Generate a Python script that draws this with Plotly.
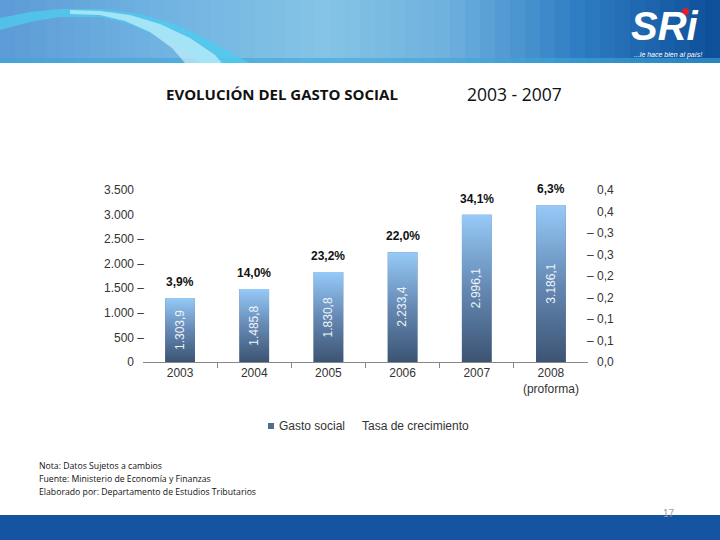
import plotly.graph_objects as go

# ---------------- data ----------------
years = ["2003", "2004", "2005", "2006", "2007", "2008<br>(proforma)"]
gasto_social = [1303.9, 1485.8, 1830.8, 2233.4, 2996.1, 3186.1]
tasa_crecimiento = [0.039, 0.140, 0.232, 0.220, 0.341, 0.063]
tasa_labels = ["3,9%", "14,0%", "23,2%", "22,0%", "34,1%", "6,3%"]
left_tick_vals = [0, 500, 1000, 1500, 2000, 2500, 3000, 3500]
left_tick_text = ["0", "500", "1.000", "1.500", "2.000", "2.500", "3.000", "3.500"]
right_tick_vals = [0.0, 0.05, 0.10, 0.15, 0.20, 0.25, 0.30, 0.35, 0.40]
right_tick_text = ["0,0", "0,1", "0,1", "0,2", "0,2", "0,3", "0,3", "0,4", "0,4"]
series_names = ["Gasto social", "Tasa de crecimiento"]

# ---------------- geometry ----------------
W, H = 720, 540
L, R, T, B = 143, 132, 190, 178
PW, PH = W - L - R, H - T - B


def px(x):
    return (x - L) / PW


def py(y):
    return (H - B - y) / PH


def es_num(v):
    s = f"{v:,.1f}"
    return s.replace(",", "X").replace(".", ",").replace("X", ".")


NB = "\u00a0"
left_text = [t + (NB + "–" if 0 < v < 3000 else NB * 3) for v, t in zip(left_tick_vals, left_tick_text)]
right_text = [("– " if 0 < v < 0.34 else NB * 3) + t for v, t in zip(right_tick_vals, right_tick_text)]

xs = list(range(len(years)))
half = 0.2
BAR_DARK, BAR_MID, BAR_LIGHT = "#3c5473", "#6589b4", "#96caf8"

fig = go.Figure()

# base bar trace (data)
fig.add_trace(go.Bar(
    x=xs, y=gasto_social, name=series_names[0], width=2 * half,
    marker=dict(color="#4f6b8e", line=dict(width=0)),
    hovertemplate="%{y:,.1f}<extra>Gasto social</extra>", showlegend=False,
))

# gradient skin for each bar, built from the same values
for xi, v in zip(xs, gasto_social):
    fig.add_trace(go.Scatter(
        x=[xi - half, xi + half, xi + half, xi - half, xi - half],
        y=[0, 0, v, v, 0],
        mode="lines", line=dict(width=0), fill="toself",
        fillgradient=dict(type="vertical",
                          colorscale=[[0, BAR_DARK], [0.5, BAR_MID], [1, BAR_LIGHT]]),
        showlegend=False, hoverinfo="skip",
    ))

# growth rate series (invisible line on secondary axis, as in the original)
fig.add_trace(go.Scatter(
    x=xs, y=tasa_crecimiento, yaxis="y2", name=series_names[1],
    mode="lines", line=dict(color="rgba(0,0,0,0)", width=2), showlegend=False,
    hovertemplate="%{y:.1%}<extra>Tasa de crecimiento</extra>",
))

annotations = []
# rotated values inside bars
for xi, v in zip(xs, gasto_social):
    annotations.append(dict(x=xi, y=v / 2, xref="x", yref="y", text=es_num(v),
                            textangle=-90, showarrow=False, xanchor="center", yanchor="middle",
                            font=dict(family="Liberation Sans, Arial", size=12, color="#eef3f8")))
# growth labels above bars
for xi, v, t in zip(xs, gasto_social, tasa_labels):
    annotations.append(dict(x=xi, y=v, xref="x", yref="y", text="<b>" + t + "</b>",
                            xanchor="center", yanchor="bottom", yshift=7, showarrow=False,
                            font=dict(family="Liberation Sans, Arial", size=12, color="#111111")))


def txt(x, y, text, size, color="#111111", family="Open Sans", xanchor="center"):
    return dict(x=px(x), y=py(y), xref="paper", yref="paper", text=text, showarrow=False,
                xanchor=xanchor, yanchor="middle", font=dict(family=family, size=size, color=color))


annotations += [
    txt(282, 94, "<b>EVOLUCIÓN DEL GASTO SOCIAL</b>", 15),
    txt(514, 94, "2003 - 2007", 17.5),
    txt(37, 466, "Nota: Datos Sujetos a cambios", 8.7, xanchor="left"),
    txt(37, 479, "Fuente: Ministerio de Economía y Finanzas", 8.7, xanchor="left"),
    txt(37, 492, "Elaborado por: Departamento de Estudios Tributarios", 8.7, xanchor="left"),
    txt(669, 513, "17", 10, color="#9a9a9a", family="Liberation Sans, Arial"),
    txt(665, 26, "<b><i>SRi</i></b>", 40, color="#ffffff",
        family="Liberation Sans Narrow, Liberation Sans, Arial"),
    txt(668, 55, "<i>...le hace bien al país!</i>", 7, color="#ffffff", family="Liberation Sans, Arial"),
    # legend
    txt(277, 426, series_names[0], 12, color="#333333", family="Liberation Sans, Arial", xanchor="left"),
    txt(360, 426, series_names[1], 12, color="#333333", family="Liberation Sans, Arial", xanchor="left"),
]

# ---------------- decoration shapes ----------------
shapes = []


def lerp_color(stops, t):
    for (t0, c0), (t1, c1) in zip(stops[:-1], stops[1:]):
        if t0 <= t <= t1:
            f = (t - t0) / (t1 - t0) if t1 > t0 else 0
            a = [int(c0[i:i + 2], 16) for i in (1, 3, 5)]
            b = [int(c1[i:i + 2], 16) for i in (1, 3, 5)]
            return "#" + "".join(f"{round(a[k] + (b[k] - a[k]) * f):02x}" for k in range(3))
    return stops[-1][1]


band_stops = [(0.0, "#5d9bd6"), (0.2, "#6eb1e0"), (0.45, "#85c4e6"), (0.62, "#6fb1de"),
              (0.8, "#2f7ec3"), (1.0, "#0d4d98")]
n_strips = 48
for i in range(n_strips):
    x0 = W * i / n_strips
    x1 = W * (i + 1) / n_strips + 0.6
    shapes.append(dict(type="rect", xref="paper", yref="paper", layer="below",
                       x0=px(x0), x1=px(x1), y0=py(63), y1=py(0),
                       fillcolor=lerp_color(band_stops, (i + 0.5) / n_strips), line=dict(width=0)))
shapes.append(dict(type="rect", xref="paper", yref="paper", layer="below",
                   x0=px(0), x1=px(720), y0=py(63), y1=py(58),
                   fillcolor="#3aa6da", line=dict(width=0), opacity=0.6))


def path(points_top, points_bottom):
    pts = points_top + points_bottom[::-1]
    return "M " + " L ".join(f"{px(a):.4f},{py(b):.4f}" for a, b in pts) + " Z"


wave_top = [(0, 18), (30, 12), (60, 9), (100, 9), (140, 14), (175, 24), (205, 38), (230, 52), (250, 63)]
wave_bot = [(0, 30), (30, 22), (60, 17), (100, 17), (130, 24), (160, 38), (185, 52), (200, 63)]
shapes.append(dict(type="path", xref="paper", yref="paper", layer="below",
                   path=path(wave_top, wave_bot), fillcolor="#4fcbef", line=dict(width=0), opacity=0.8))
wave_top2 = [(70, 10), (100, 11), (130, 15), (160, 24), (190, 38), (215, 55), (222, 63)]
wave_bot2 = [(70, 14), (100, 15), (125, 21), (150, 32), (172, 48), (185, 63)]
shapes.append(dict(type="path", xref="paper", yref="paper", layer="below",
                   path=path(wave_top2, wave_bot2), fillcolor="#c8f1fb", line=dict(width=0), opacity=0.7))
# red dot of the logo
shapes.append(dict(type="circle", xref="paper", yref="paper",
                   x0=px(682), x1=px(689), y0=py(15), y1=py(8),
                   fillcolor="#e0202a", line=dict(width=0)))
# bottom band
shapes.append(dict(type="rect", xref="paper", yref="paper", layer="below",
                   x0=px(0), x1=px(720), y0=py(540), y1=py(515),
                   fillcolor="#1454a0", line=dict(width=0)))
# legend swatch
shapes.append(dict(type="rect", xref="paper", yref="paper",
                   x0=px(268), x1=px(274), y0=py(429), y1=py(423),
                   fillcolor="#4f6e95", line=dict(width=0)))

fig.update_layout(
    width=W, height=H,
    margin=dict(l=L, r=R, t=T, b=B, autoexpand=False),
    paper_bgcolor="#ffffff", plot_bgcolor="rgba(0,0,0,0)",
    font=dict(family="Liberation Sans, Arial", size=12, color="#333333"),
    showlegend=False,
    xaxis=dict(range=[-0.5, len(years) - 0.5], tickmode="array", tickvals=xs, ticktext=years,
               showgrid=False, zeroline=False, showline=True, linecolor="#888888", linewidth=1,
               ticks="", fixedrange=True,
               minor=dict(tickmode="array", tickvals=[i + 0.5 for i in xs[:-1]],
                          ticks="outside", ticklen=5, tickcolor="#888888", showgrid=False)),
    yaxis=dict(range=[0, 3500], tickmode="array", tickvals=left_tick_vals, ticktext=left_text,
               showgrid=False, zeroline=False, showline=False, ticks="", ticklabelstandoff=-2),
    yaxis2=dict(range=[0, 0.4], tickmode="array", tickvals=right_tick_vals, ticktext=right_text,
                overlaying="y", side="right", showgrid=False, zeroline=False, showline=False,
                ticks="", ticklabelstandoff=-2),
    annotations=annotations,
    shapes=shapes,
    bargap=0.6,
)

fig.write_html("out.html", config={"displayModeBar": False},
               post_script="document.body.style.margin='0';document.body.style.overflow='hidden';")
